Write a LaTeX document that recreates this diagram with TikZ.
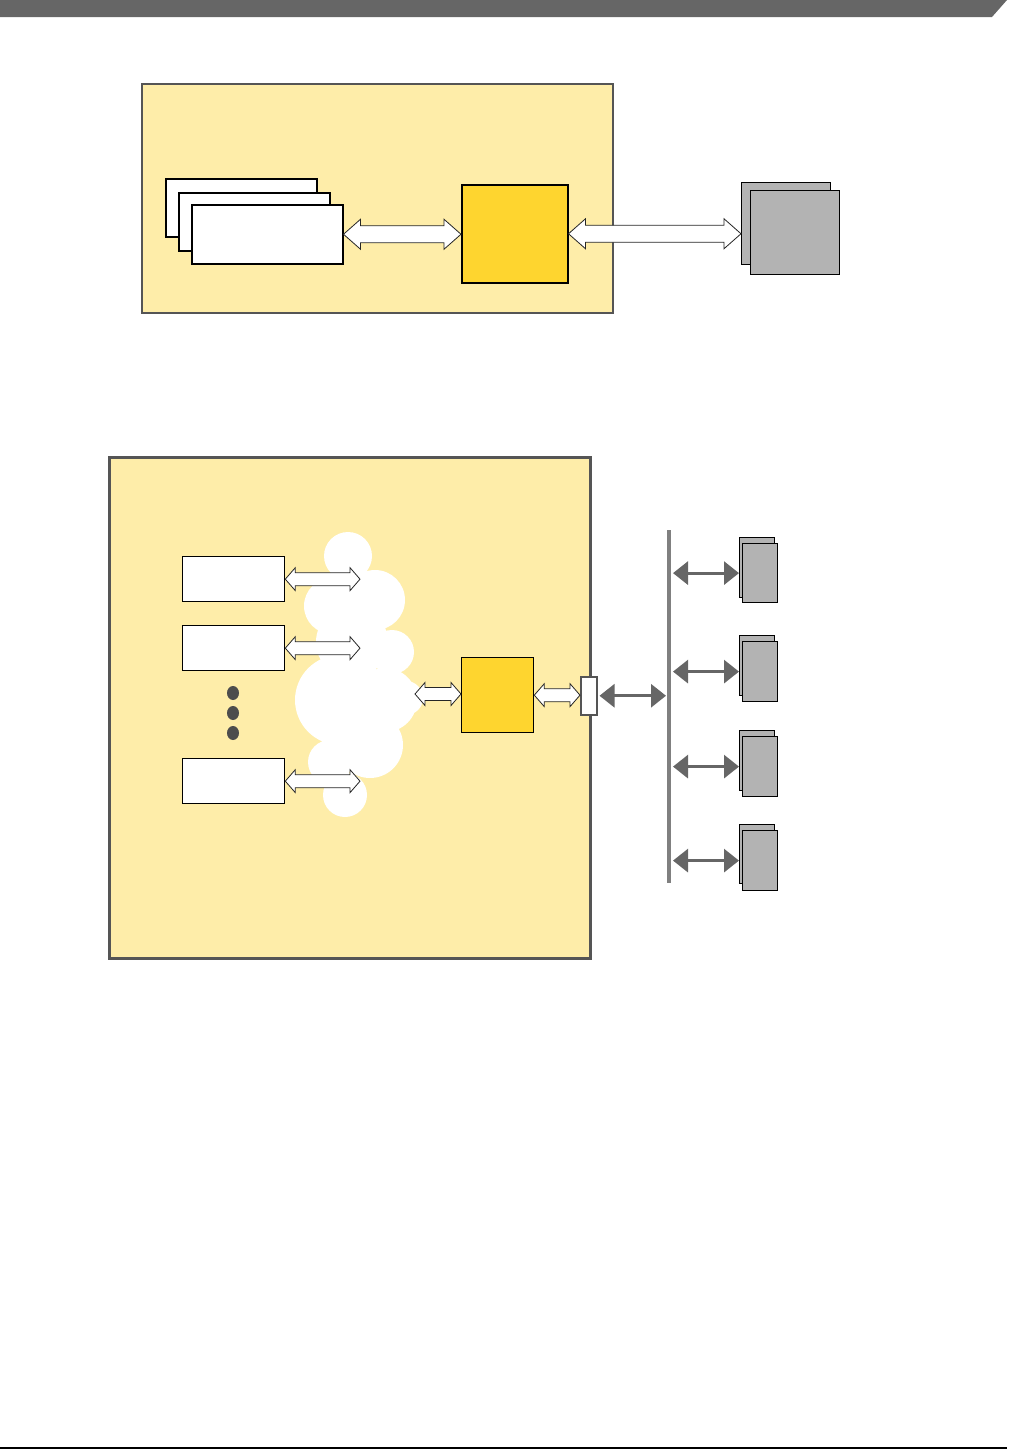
\documentclass[tikz,border=0pt]{standalone}
\usepackage{tikz}
\usetikzlibrary{positioning, calc, arrows.meta}
\definecolor{paleyellow}{HTML}{FEEDA9}
\definecolor{coreyellow}{HTML}{FED52F}
\definecolor{devgray}{HTML}{B3B3B3}
\definecolor{framegray}{HTML}{555555}
\definecolor{busgray}{HTML}{808080}
\definecolor{linkgray}{HTML}{666666}
\definecolor{dotgray}{HTML}{4D4D4D}
\tikzstyle{frame} = [rectangle, draw=framegray, line width=2pt, fill=paleyellow, anchor=north west, inner sep=0pt]
\tikzstyle{task} = [rectangle, draw=black, line width=1.5pt, fill=white, inner sep=0pt, anchor=north west]
\tikzstyle{core} = [rectangle, draw=black, line width=1.5pt, fill=coreyellow, inner sep=0pt, anchor=north west]
\tikzstyle{device} = [rectangle, draw=black, line width=1.2pt, fill=devgray, inner sep=0pt, anchor=north west]
\tikzstyle{port} = [rectangle, draw=framegray, line width=1.5pt, fill=white, inner sep=0pt, anchor=north west]
\tikzstyle{fatarrow} = [draw=black!85, line width=0.8pt, fill=white]
\tikzstyle{link} = [draw=linkgray, line width=3pt, {Triangle[length=15pt,width=23pt]}-{Triangle[length=15pt,width=23pt]}]
\tikzstyle{bus} = [draw=busgray, line width=4pt]
% hollow double block arrow: from, to, shaft half, head half, head length
\newcommand{\fatarrow}[5]{%
  \draw[fatarrow] let \p1=(#1), \p2=(#2) in
    (\x1,\y1) -- (\x1+#5,\y1+#4) -- (\x1+#5,\y1+#3) -- (\x2-#5,\y1+#3)
    -- (\x2-#5,\y1+#4) -- (\x2,\y1) -- (\x2-#5,\y1-#4) -- (\x2-#5,\y1-#3)
    -- (\x1+#5,\y1-#3) -- (\x1+#5,\y1-#4) -- cycle;}
\begin{document}
\begin{tikzpicture}[x=1pt, y=-1pt]
    \useasboundingbox (0,0) rectangle (1009,1449);
    % page header and footer
    \fill[linkgray] (0,0) -- (1007,0) -- (992,17) -- (0,17) -- cycle;
    \draw[line width=1.5pt] (0,1448) -- (1007,1448);

    % upper picture
    \node[frame, minimum width=471pt, minimum height=229pt] (host) at (141,83) {};
    \node[task, minimum width=151pt, minimum height=58pt] (taskc) at (165,178) {};
    \node[task, minimum width=151pt, minimum height=58pt] (taskb) at (178,192) {};
    \node[task, minimum width=151pt, minimum height=59pt] (taska) at (191,204) {};
    \node[core, minimum width=106pt, minimum height=98pt] (cpu) at (461,184) {};
    \node[device, minimum width=89pt, minimum height=82pt] (memb) at (741,182) {};
    \node[device, minimum width=89pt, minimum height=84pt] (mem) at (750,190) {};

    \fatarrow{taska.east}{cpu.west}{8.5pt}{15pt}{17pt}
    \fatarrow{cpu.east}{cpu.east -| memb.west}{8.5pt}{15pt}{17pt}

    % lower picture
    \node[frame, line width=2.5pt, minimum width=481pt, minimum height=501pt] (board) at (108,456) {};
    % cloud
    \fill[white] (348,556) circle (24) (375,600) circle (30) (332,606) circle (28)
        (352,642) circle (36) (392,652) circle (22) (340,700) circle (45)
        (385,700) circle (32) (406,698) circle (17) (370,745) circle (33)
        (330,762) circle (22) (345,795) circle (22);
    \coordinate (cloudedge) at (360,0);
    \coordinate (cloudout) at (415,694);

    \node[task, line width=1.3pt, minimum width=102pt, minimum height=45pt] (app1) at (182,556) {};
    \node[task, line width=1.3pt, minimum width=102pt, minimum height=45pt] (app2) at (182,625) {};
    \node[task, line width=1.3pt, minimum width=102pt, minimum height=45pt] (app3) at (182,758) {};
    \fill[dotgray] (233,693) ellipse (6 and 7) (233,713) ellipse (6 and 7) (233,733) ellipse (6 and 7);

    \fatarrow{app1.east}{app1.east -| cloudedge}{6.5pt}{11.5pt}{10pt}
    \fatarrow{app2.east}{app2.east -| cloudedge}{6.5pt}{11.5pt}{10pt}
    \fatarrow{app3.east}{app3.east -| cloudedge}{6.5pt}{11.5pt}{10pt}

    \node[core, line width=1.3pt, minimum width=72pt, minimum height=75pt] (ctrl) at (461,657) {};
    \node[port, minimum width=16pt, minimum height=38pt] (phy) at (580,676) {};
    \fatarrow{cloudout}{cloudout -| ctrl.west}{6.5pt}{11.5pt}{10pt}
    \fatarrow{ctrl.east}{ctrl.east -| phy.west}{6.5pt}{11.5pt}{10pt}

    % bus and devices
    \coordinate (bustop) at (669,530);
    \coordinate (busbot) at (669,883);
    \draw[bus] (bustop) -- (busbot);
    \draw[link, shorten <=2pt, shorten >=3pt] (phy.east) -- (phy.east -| bustop);

    \node[device, minimum width=35pt, minimum height=60pt] (dev1b) at (739,537) {};
    \node[device, minimum width=35pt, minimum height=59pt] (dev1) at (742,543) {};
    \node[device, minimum width=35pt, minimum height=60pt] (dev2b) at (739,635) {};
    \node[device, minimum width=35pt, minimum height=60pt] (dev2) at (742,641) {};
    \node[device, minimum width=35pt, minimum height=60pt] (dev3b) at (739,730) {};
    \node[device, minimum width=35pt, minimum height=60pt] (dev3) at (742,736) {};
    \node[device, minimum width=35pt, minimum height=59pt] (dev4b) at (739,824) {};
    \node[device, minimum width=35pt, minimum height=60pt] (dev4) at (742,830) {};

    \draw[link, shorten <=4pt] (dev1.west -| bustop) -- (dev1.west -| dev1b.west);
    \draw[link, shorten <=4pt] (dev2.west -| bustop) -- (dev2.west -| dev2b.west);
    \draw[link, shorten <=4pt] (dev3.west -| bustop) -- (dev3.west -| dev3b.west);
    \draw[link, shorten <=4pt] (dev4.west -| bustop) -- (dev4.west -| dev4b.west);
\end{tikzpicture}
\end{document}
